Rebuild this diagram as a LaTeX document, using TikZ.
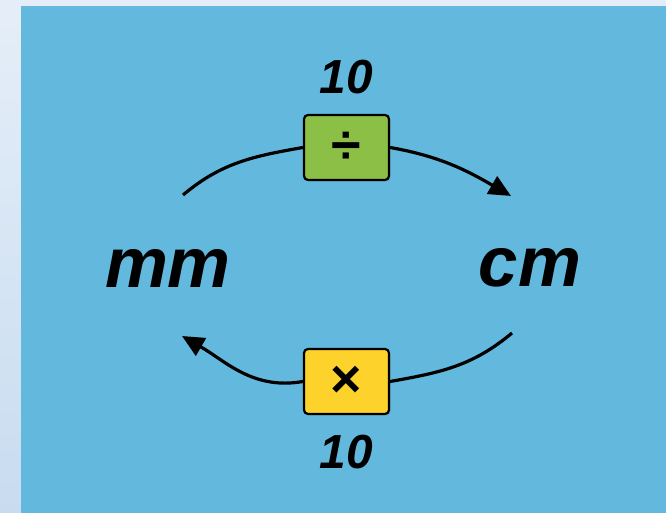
\documentclass[tikz,border=0pt]{standalone}
\usepackage{fontspec}
\newfontfamily\unitfont{Liberation Sans}
\usepackage{tikz}
\usetikzlibrary{arrows.meta}
\usetikzlibrary{shadows}
\usetikzlibrary{positioning}
\definecolor{panelblue}{HTML}{62B9DD}
\definecolor{pagetop}{HTML}{E5EEF8}
\definecolor{pagebot}{HTML}{C8DCF0}
\definecolor{opgreen}{HTML}{8CBF45}
\definecolor{opyellow}{HTML}{FDD22A}
\tikzset{x=1bp, y=1bp, >={Triangle[length=22bp,width=20bp]}, font=\unitfont\bfseries\itshape}
\tikzstyle{opbox} = [draw, line width=2.2bp, rounded corners=4bp, minimum width=85bp, minimum height=65bp, inner sep=0pt, font=\unitfont\bfseries\fontsize{54}{54}\selectfont, drop shadow={shadow xshift=1.5bp, shadow yshift=-1.5bp, opacity=0.35}]
\tikzstyle{unit} = [inner sep=0pt, font=\unitfont\bfseries\itshape\fontsize{71}{71}\selectfont]
\tikzstyle{factor} = [inner sep=0pt, font=\unitfont\bfseries\itshape\fontsize{48}{48}\selectfont]
\tikzstyle{link} = [line width=3.2bp]
\begin{document}
\begin{tikzpicture}
    % background and panel
    \shade [top color=pagetop, bottom color=pagebot] (0,0) rectangle (666,513);
    \fill [panelblue] (21,0) rectangle (666,507);

    \node [opbox, fill=opgreen] (div) at (346.5,365.5) {÷};
    \node [opbox, fill=opyellow] (mul) at (346.5,131.5) {×};
    \node [factor, above=20bp of div] (ten_div) {10};
    \node [factor, below=20bp of mul] (ten_mul) {10};
    \node [unit] (mm) at (168,245) {mm};
    \node [unit] (cm) at (530,245) {cm};

    \coordinate (mm_out) at (183,318);
    \coordinate (cm_in) at (511,317);
    \coordinate (cm_out) at (512,180);
    \coordinate (mm_in) at (182,177);

    \draw [link] (mm_out) to [out=40, in=190] (div.west);
    \draw [link, ->] (div.east) to [out=-10, in=150] (cm_in);
    \draw [link] (cm_out) to [out=220, in=10] (mul.east);
    \draw [link, ->] (mul.west) to [out=190, in=-30] (mm_in);
\end{tikzpicture}
\end{document}
